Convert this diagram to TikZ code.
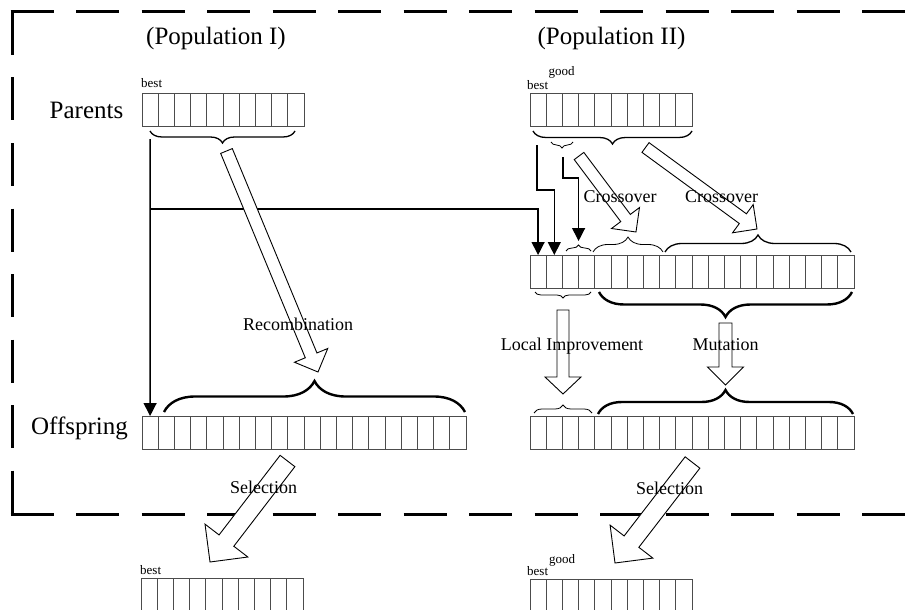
\documentclass[tikz,border=0pt]{standalone}
\usepackage{fontspec}
\setmainfont{Liberation Serif}
\usetikzlibrary{calc,arrows.meta,decorations.pathreplacing}

\tikzset{
  cellbox/.style={draw=black!70, line width=0.8pt, minimum width=16.2pt,
    minimum height=33pt, inner sep=0pt, outer sep=0pt},
  frameline/.style={line width=3pt, dash pattern=on 43pt off 22.5pt},
  conn/.style={line width=1.3pt, -{Triangle[length=13pt,width=13pt]}},
  blockarrow/.style={draw=black, fill=white, line width=0.9pt, line join=miter},
  bthin/.style={decorate, decoration={brace, amplitude=#1}, line width=0.8pt},
  bmid/.style={decorate, decoration={brace, amplitude=#1}, line width=1.3pt},
  bthick/.style={decorate, decoration={brace, amplitude=#1}, line width=2.4pt},
  biglabel/.style={font=\fontsize{25}{30}\selectfont, anchor=base, inner sep=0pt},
  midlabel/.style={font=\fontsize{18}{22}\selectfont, anchor=base, inner sep=0pt},
  smalllabel/.style={font=\fontsize{13}{15}\selectfont, anchor=base west, inner sep=0pt},
}

% a row of #4 cells named #1-1 ... #1-#4, left edge #2, top edge #3
\newcommand\cellrow[4]{%
  \foreach \k in {1,...,#4}{%
    \node[cellbox] (#1-\k) at ({#2+(\k-0.5)*16.2},{#3+16.5}) {};}}

% hollow block arrow from #1 to #2: shaft half width #3, head half width #4, head length #5
\newcommand\barrow[5]{%
  \path ($(#2)!#5!(#1)$) coordinate (ba-neck);
  \filldraw[blockarrow] ($(#1)!#3!90:(#2)$) -- ($(ba-neck)!#3!90:(#2)$)
    -- ($(ba-neck)!#4!90:(#2)$) -- (#2) -- ($(ba-neck)!#4!-90:(#2)$)
    -- ($(ba-neck)!#3!-90:(#2)$) -- ($(#1)!#3!-90:(#2)$) -- cycle;}

\begin{document}
\begin{tikzpicture}[x=1pt, y=-1pt]
  \clip (0,0) rectangle (906,610);
  \fill[white] (0,0) rectangle (906,610);

  % dashed frame
  \draw[frameline] (12,12) -- (12,514);
  \draw[frameline] (10.5,12) -- (910,12);
  \draw[frameline] (10.5,514) -- (910,514);

  % cell rows
  \cellrow{P1}{142}{93}{10}
  \cellrow{P2}{530}{93}{10}
  \cellrow{M2}{530}{255}{20}
  \cellrow{O1}{142}{416}{20}
  \cellrow{O2}{530}{416}{20}
  \cellrow{B1}{141}{578}{10}
  \cellrow{B2}{530}{579}{10}

  % braces
  \draw[bmid=12] (295,131) -- (150,131);
  \draw[bmid=13] (692,131) -- (533,131);
  \draw[bthin=6] (573,142) -- (551,142);
  \draw[bthin=6] (566,251) -- (591,251);
  \draw[bthin=15] (593,252) -- (663,252);
  \draw[bmid=17] (665,252) -- (851,252);
  \draw[bthin=6] (591,292) -- (535,292);
  \draw[bthick=25] (852,292) -- (599,292);
  \draw[bthin=8] (534,413) -- (592,413);
  \draw[bthick=24] (598,414) -- (853,414);
  \draw[bthick=31] (164,412) -- (465,412);

  % connector points
  \coordinate (p1-drop) at (150.1,139);
  \coordinate (split) at (150.1,209);
  \coordinate (p2-drop) at (537,145);
  \coordinate (bend1) at (537,190);
  \coordinate (p2s-drop) at (563,157);
  \coordinate (bend2) at (563,178);
  \coordinate (m2s-tip) at (578.6,241);

  \draw[conn] (p1-drop) -- (O1-1.north);
  \draw[conn] (split) -| (M2-1.north);
  \draw[conn] (p2-drop) -- (bend1) -| (M2-2.north);
  \draw[conn] (p2s-drop) -- (bend2) -| (m2s-tip);

  % block arrow ends
  \coordinate (rec-a) at (226.5,151);
  \coordinate (rec-b) at (318,372);
  \coordinate (cx1-a) at (579,156);
  \coordinate (cx1-b) at (636,232);
  \coordinate (cx2-a) at (645.5,147.5);
  \coordinate (cx2-b) at (757,229);
  \coordinate (li-a) at (563,310);
  \coordinate (li-b) at (563,394);
  \coordinate (mu-a) at (725.5,323);
  \coordinate (mu-b) at (725.5,385);
  \coordinate (sel1-a) at (287.5,461);
  \coordinate (sel1-b) at (210,562);
  \coordinate (sel2-a) at (692.5,462.5);
  \coordinate (sel2-b) at (615,563);

  \barrow{rec-a}{rec-b}{6.3pt}{18pt}{18pt}
  \barrow{cx1-a}{cx1-b}{6pt}{17.5pt}{17.5pt}
  \barrow{cx2-a}{cx2-b}{6pt}{17.5pt}{17.5pt}
  \barrow{li-a}{li-b}{6pt}{18pt}{17pt}
  \barrow{mu-a}{mu-b}{6.5pt}{18pt}{18pt}
  \barrow{sel1-a}{sel1-b}{9.3pt}{27pt}{27pt}
  \barrow{sel2-a}{sel2-b}{9.3pt}{27pt}{27pt}

  % labels
  \node[biglabel] (pop1) at (216,45) {(Population I)};
  \node[biglabel] (pop2) at (611.5,45) {(Population II)};
  \node[biglabel] (parents) at (86.5,119) {Parents};
  \node[biglabel] (offspring) at (79.5,434) {Offspring};

  \node[smalllabel] (best1) at (141,88) {best};
  \node[smalllabel] (best2) at (527,89) {best};
  \node[smalllabel] (good2) at (548.5,76) {good};
  \node[smalllabel] (best3) at (140,574) {best};
  \node[smalllabel] (best4) at (527,575) {best};
  \node[smalllabel] (good4) at (549,563) {good};

  \node[midlabel] (lcx1) at (620,202) {Crossover};
  \node[midlabel] (lcx2) at (721.5,202) {Crossover};
  \node[midlabel] (lrec) at (298,330) {Recombination};
  \node[midlabel] (lli) at (572,350) {Local Improvement};
  \node[midlabel] (lmu) at (725.5,350) {Mutation};
  \node[midlabel] (lsel1) at (263.5,493) {Selection};
  \node[midlabel] (lsel2) at (669.5,494) {Selection};
\end{tikzpicture}
\end{document}
